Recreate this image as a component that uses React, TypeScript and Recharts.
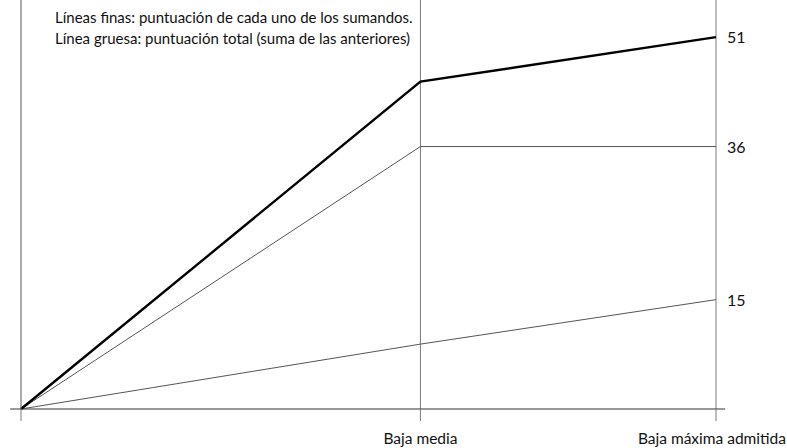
import React from "react"
import { LineChart, Line, XAxis, YAxis, ReferenceLine, LabelList } from "recharts"

// posición horizontal de cada punto (0 = origen, 1 = baja media, 1.74 = baja máxima)
const xPositions = [0, 1, 1.74]
const xLabels = ["", "Baja media", "Baja máxima admitida"]
const sumandoA = [0, 36, 36]
const sumandoB = [0, 8.9, 15]
const total = [0, 44.9, 51]
const notes = [
  "Líneas finas: puntuación de cada uno de los sumandos.",
  "Línea gruesa: puntuación total (suma de las anteriores)",
]

const data = xPositions.map((x, i) => ({
  x,
  label: xLabels[i],
  a: sumandoA[i],
  b: sumandoB[i],
  total: total[i],
}))

const FONT = "Lato, 'Open Sans', sans-serif"
const last = data.length - 1

// solo se rotula el valor final de cada línea, a la derecha
const endLabel = (props: any) => {
  const { x, y, value, index } = props
  if (index !== last) return null
  return (
    <text x={x + 11} y={y + 6} fontSize={16} fontFamily={FONT} fill="#111">
      {value}
    </text>
  )
}

// la última etiqueta se alinea al borde derecho para que no se corte
const XTick = (props: any) => {
  const { x, y, payload, index } = props
  const label = xLabels[xPositions.indexOf(payload.value)] ?? ""
  const isLast = index === xPositions.length - 1
  return (
    <text
      x={isLast ? 786 : x}
      y={y}
      dy="0.71em"
      textAnchor={isLast ? "end" : "middle"}
      fontSize={15.5}
      fontFamily={FONT}
      fill="#111"
    >
      {label}
    </text>
  )
}

export default function App() {
  return (
    <div style={{ position: "absolute", top: 0, left: 0, width: 787, height: 448, background: "#fff", fontFamily: FONT }}>
      <LineChart width={787} height={448} data={data} margin={{ top: 0, right: 71, bottom: 0, left: 0 }}>
        <XAxis
          dataKey="x"
          type="number"
          domain={[0, 1.74]}
          ticks={xPositions}
          axisLine={false}
          tickLine={{ stroke: "#7a7a7a" }}
          tickSize={12}
          tickMargin={12}
          height={39}
          tick={<XTick />}
          interval={0}
        />
        <YAxis
          domain={[0, 56.1]}
          width={21}
          tick={false}
          tickLine={false}
          axisLine={{ stroke: "#555" }}
        />
        <ReferenceLine x={xPositions[1]} stroke="#7a7a7a" />
        <ReferenceLine x={xPositions[2]} stroke="#7a7a7a" />
        <ReferenceLine
          ifOverflow="visible"
          segment={[{ x: -0.027, y: 0 }, { x: 1.763, y: 0 }]}
          stroke="#333"
        />
        <Line dataKey="b" stroke="#555" strokeWidth={1} dot={false} isAnimationActive={false}>
          <LabelList dataKey="b" content={endLabel} />
        </Line>
        <Line dataKey="a" stroke="#555" strokeWidth={1} dot={false} isAnimationActive={false}>
          <LabelList dataKey="a" content={endLabel} />
        </Line>
        <Line dataKey="total" stroke="#000" strokeWidth={2.4} dot={false} isAnimationActive={false}>
          <LabelList dataKey="total" content={endLabel} />
        </Line>
      </LineChart>
      <div style={{ position: "absolute", left: 55, top: 7, fontSize: 15, lineHeight: "21px", color: "#111" }}>
        {notes.map((n) => (
          <div key={n}>{n}</div>
        ))}
      </div>
    </div>
  )
}
